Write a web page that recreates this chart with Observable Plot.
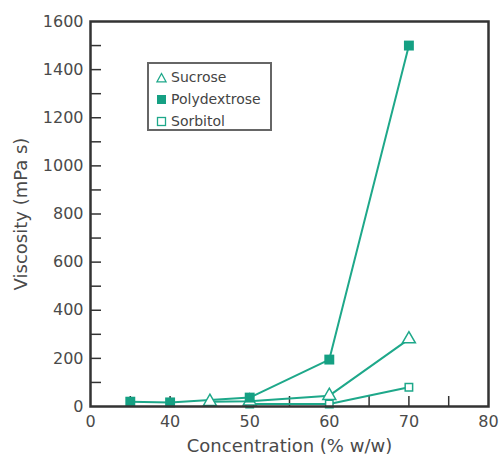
<!DOCTYPE html>
<html>
<head>
<meta charset="utf-8">
<script src="https://cdn.jsdelivr.net/npm/d3@7"></script>
<script src="https://cdn.jsdelivr.net/npm/@observablehq/plot@0.6"></script>
<style>
  html, body { margin: 0; padding: 0; background: #fff; }
  #wrap { position: relative; width: 499px; height: 457px; font-family: "DejaVu Sans", sans-serif; }
  #legend { position: absolute; left: 147px; top: 62px; width: 125px; height: 69px; border: 2px solid #666; box-sizing: border-box; background: #fff; padding: 2px 0 0 7px; }
  .item { display: flex; align-items: center; height: 22px; font-size: 14px; color: #444; }
  .item svg { margin-right: 4px; }
</style>
</head>
<body>
<div id="wrap"><div id="legend"></div></div>
<script>
// Data (x = concentration % w/w, y = viscosity mPa s)
const sucroseX = [45, 50, 60, 70];
const sucroseY = [20, 22, 45, 280];
const polyX = [35, 40, 50, 60, 70];
const polyY = [20, 17, 37, 195, 1500];
const sorbitolX = [50, 60, 70];
const sorbitolY = [10, 10, 80];

const seriesNames = ["Sucrose", "Polydextrose", "Sorbitol"];

const xTickValues = [30, 40, 50, 60, 70, 80];
const xTickLabels = ["0", "40", "50", "60", "70", "80"];
const xMinorTicks = [35, 40, 45, 50, 55, 60, 65, 70, 75];
const yTickValues = [0, 200, 400, 600, 800, 1000, 1200, 1400, 1600];
const yMinorTicks = [100, 200, 300, 400, 500, 600, 700, 800, 900, 1000, 1100, 1200, 1300, 1400, 1500];

const teal = "#1ea88a";
const axisColor = "#333";
const textColor = "#4a4a4a";

const toRows = (xs, ys, name) => xs.map((x, i) => ({x, y: ys[i], name}));
const sucrose = toRows(sucroseX, sucroseY, seriesNames[0]);
const poly = toRows(polyX, polyY, seriesNames[1]);
const sorbitol = toRows(sorbitolX, sorbitolY, seriesNames[2]);

const W = 499, H = 457, mL = 90, mR = 11, mT = 21, mB = 51;
const innerW = W - mL - mR, innerH = H - mT - mB;

const chart = Plot.plot({
  width: W,
  height: H,
  marginLeft: mL,
  marginRight: mR,
  marginTop: mT,
  marginBottom: mB,
  style: { fontFamily: "'DejaVu Sans', sans-serif", fontSize: "16px", color: textColor, background: "#fff" },
  x: { domain: [30, 80] },
  y: { domain: [0, 1600] },
  marks: [
    Plot.tickX(xMinorTicks, { x: d => d, insetTop: innerH - 10, stroke: axisColor, strokeWidth: 1.5 }),
    Plot.tickY(yMinorTicks, { y: d => d, insetRight: innerW - 11, stroke: axisColor, strokeWidth: 1.5 }),
    Plot.line(poly, { x: "x", y: "y", stroke: teal, strokeWidth: 2 }),
    Plot.line(sucrose, { x: "x", y: "y", stroke: teal, strokeWidth: 2 }),
    Plot.line(sorbitol, { x: "x", y: "y", stroke: teal, strokeWidth: 2 }),
    Plot.dot(sorbitol, { x: "x", y: "y", symbol: "square", r: 4.2, fill: "white", stroke: teal, strokeWidth: 1.5 }),
    Plot.dot(sucrose, { x: "x", y: "y", symbol: "triangle", r: 4.8, fill: "white", stroke: teal, strokeWidth: 1.5 }),
    Plot.dot(poly, { x: "x", y: "y", symbol: "square", r: 5.6, fill: "#15a083", stroke: "none" }),
    Plot.frame({ stroke: axisColor, strokeWidth: 2.5 }),
    Plot.axisX({ ticks: xTickValues, tickFormat: (d) => xTickLabels[xTickValues.indexOf(d)], tickSize: 0, tickPadding: 9,
      fontSize: 16, fill: textColor, label: null }),
    Plot.axisX({ ticks: [], label: "Concentration (% w/w)", labelAnchor: "center", labelArrow: "none", labelOffset: 45,
      fontSize: 18, fill: textColor }),
    Plot.axisY({ ticks: yTickValues, tickSize: 0, tickPadding: 7, tickFormat: d => String(d),
      fontSize: 16, fill: textColor, label: null }),
    Plot.axisY({ ticks: [], label: "Viscosity (mPa s)", labelAnchor: "center", labelArrow: "none", labelOffset: 76,
      fontSize: 18, fill: textColor })
  ]
});

document.getElementById("wrap").prepend(chart);
chart.style.position = "absolute";
chart.style.left = "0";
chart.style.top = "0";

// legend
const legendSymbols = [
  `<svg width="11" height="11"><path d="M5.5 1.5 L10 9.8 L1 9.8 Z" fill="white" stroke="${teal}" stroke-width="1.3"/></svg>`,
  `<svg width="11" height="11"><rect x="1" y="1" width="9" height="9" fill="#15a083"/></svg>`,
  `<svg width="11" height="11"><rect x="1.5" y="1.5" width="8" height="8" fill="white" stroke="${teal}" stroke-width="1.3"/></svg>`
];
const legend = document.getElementById("legend");
seriesNames.forEach((n, i) => {
  const div = document.createElement("div");
  div.className = "item";
  div.innerHTML = legendSymbols[i] + `<span>${n}</span>`;
  legend.appendChild(div);
});
</script>
</body>
</html>
